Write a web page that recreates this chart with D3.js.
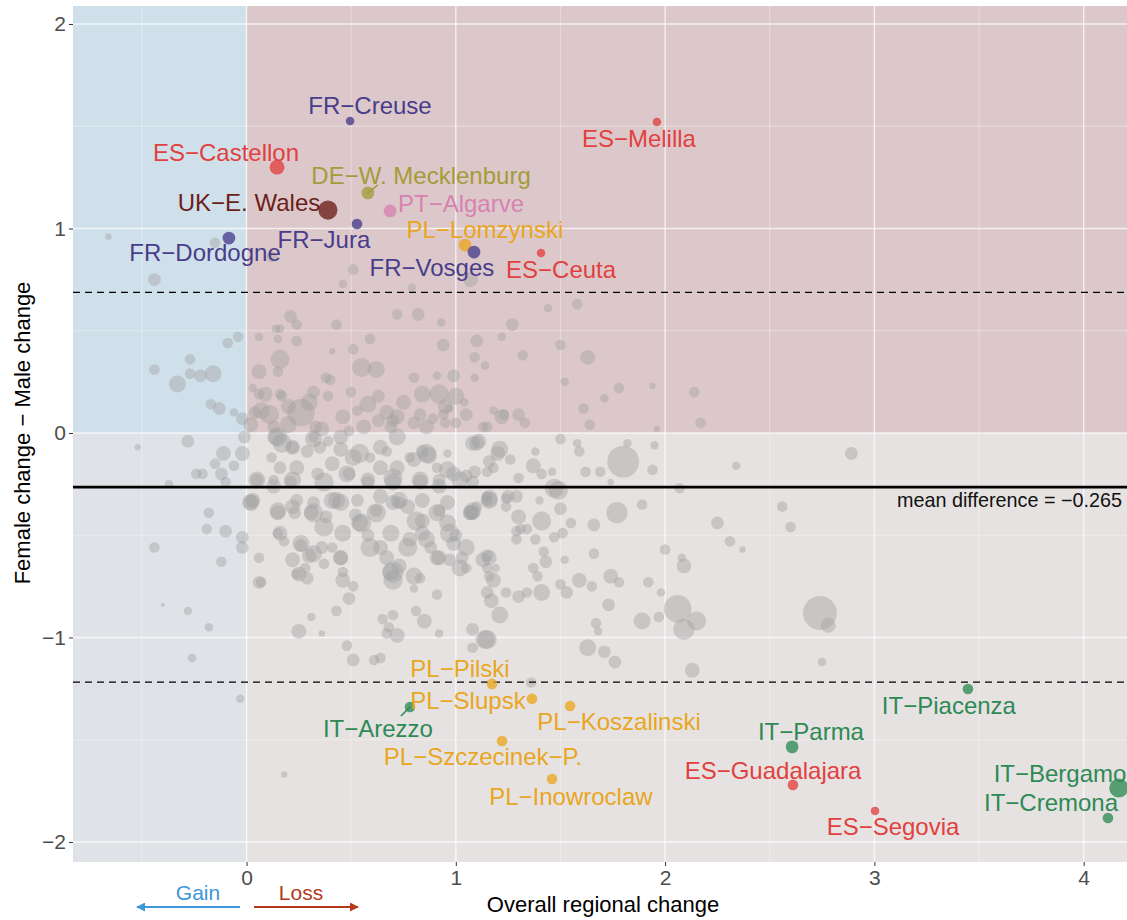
<!DOCTYPE html>
<html><head><meta charset="utf-8">
<script src="https://cdn.jsdelivr.net/npm/d3@7"></script>
<style>
html,body{margin:0;padding:0;background:#fff;}
text{font-family:"Liberation Sans",Arial,Helvetica,sans-serif;}
</style></head>
<body>
<svg id="chart" width="1127" height="920"></svg>
<script>
// ---------- DATA ----------
const xTicks = [0, 1, 2, 3, 4];
const yTicks = [-2, -1, 0, 1, 2];
const meanDiff = -0.265;
const upperBand = 0.688;
const lowerBand = -1.218;

// unlabelled regions: [overall change, female-male change, size]
const otherRegions = [
[-0.66,0.96,3],[-0.15,0.93,5],[-0.44,0.75,6],[0.12,0.86,5],[-0.04,0.47,5],[-0.09,0.44,5],[-0.27,0.36,5],[-0.44,0.31,5],[-0.16,0.29,8],[-0.22,0.28,6],[-0.27,0.29,5],[-0.33,0.24,8],[-0.17,0.14,5],[-0.13,0.12,6],[-0.06,0.10,4],[-0.02,0.07,6],[-0.28,-0.04,6],[-0.52,-0.07,3],[-0.18,-0.39,5],[-0.19,-0.47,5],[-0.10,-0.48,6],[-0.44,-0.56,5],[-0.12,-0.63,5],[-0.02,-0.51,6],[-0.37,-0.25,4],[-0.15,-0.15,5],[-0.11,-0.10,7],[-0.06,-0.16,5],[-0.24,-0.20,5],[-0.21,-0.20,5],[-0.12,-0.20,6],[-0.10,-0.24,5],[-0.01,-0.02,6],[-0.02,-0.10,7],[-0.40,-0.84,2],[-0.28,-0.87,4],[-0.18,-0.95,4],[-0.26,-1.10,4],[-0.03,-1.30,4],[0.18,-1.67,3],
[0.21,0.57,6],[0.24,0.53,5],[0.14,0.51,4],[0.16,0.51,4],[0.24,0.45,5],[0.15,0.46,4],[0.06,0.47,4],[0.16,0.36,9],[0.06,0.30,7],[0.15,0.30,5],[0.03,0.22,4],[0.09,0.19,7],[0.16,0.19,5],[0.07,0.11,8],[0.11,0.09,9],[0.26,0.10,13],[0.32,0.20,6],[0.39,0.18,5],[0.43,0.53,5],[0.41,0.40,3],[0.51,0.41,5],[0.50,0.20,5],[0.55,0.32,9],[0.62,0.31,8],[0.59,0.46,5],[0.46,0.08,7],[0.38,0.27,5],[0.63,0.18,6],[0.72,0.58,5],[0.82,0.58,6],[0.93,0.54,4],[0.94,0.43,6],[0.80,0.27,5],[0.91,0.28,4],[0.99,0.28,6],[0.84,0.19,8],[0.92,0.19,9],[1.10,0.45,6],[1.09,0.37,5],[1.14,0.33,4],[1.09,0.27,4],[1.04,0.15,4],[1.05,0.09,6],[1.22,0.47,4],[1.18,0.11,4],[1.23,0.09,5],[0.69,0.03,6],[0.72,0.08,7],[0.63,0.06,6],[0.80,0.05,6],[0.86,0.03,7],[0.95,0.05,5],[1.15,0.03,5],[0.33,0.03,6],[0.13,0.03,6],[0.49,0.01,5],[1.27,0.53,6],[1.32,0.38,5],[0.40,0.26,5],[0.06,0.19,5],[0.04,0.10,6],[0.17,0.18,5],[0.53,0.11,5],[0.67,0.10,7],[0.70,0.06,6],[0.83,0.09,6],[0.89,0.07,5],[0.94,0.09,5],[0.97,0.12,4],[1.00,0.05,5],[1.30,0.09,6],[1.33,0.05,5],[1.44,0.61,4],[1.58,0.63,5],[1.50,0.43,5],[1.63,0.37,7],[1.52,0.25,4],[1.78,0.22,5],[1.71,0.17,4],[1.94,0.23,3],[2.14,0.20,5],[2.17,0.05,5],[1.61,0.12,5],[1.64,0.04,5],[1.96,0.02,3],[1.22,0.08,7],[1.13,0.03,5],
[0.30,0.15,8],[0.20,0.13,7],[0.58,0.14,8],[0.75,0.15,7],[0.95,0.13,7],[1.00,0.18,8],[0.36,0.02,7],[0.56,0.03,7],[0.20,0.04,8],[0.02,0.04,7],
[0.51,0.80,5],[0.79,0.71,4],[1.07,0.75,7],[0.46,0.73,4],
[1.10,-0.05,7],[1.21,-0.08,8],[1.16,-0.14,6],[1.18,-0.17,5],[1.09,-0.19,6],[1.15,-0.19,5],[1.38,-0.09,4],[1.37,-0.16,7],[1.41,-0.20,5],[1.46,-0.19,4],[1.30,-0.22,5],[1.47,-0.27,9],[1.50,-0.03,5],[1.58,-0.05,4],[1.59,-0.09,5],[1.80,-0.14,15],[1.82,-0.05,4],[1.62,-0.19,5],[1.69,-0.19,5],[1.74,-0.24,3],[1.94,-0.18,5],[1.95,-0.06,4],[2.07,-0.27,5],[2.34,-0.16,4],[2.89,-0.10,6],
[1.77,-0.39,10],[1.89,-0.35,5],[2.25,-0.44,6],[2.56,-0.36,5],[2.60,-0.46,5],[2.31,-0.53,5],[2.37,-0.57,3],[2.00,-0.57,5],[2.08,-0.61,4],[2.09,-0.65,7],[1.66,-0.45,6],[1.50,-0.37,6],[1.41,-0.43,9],[1.55,-0.44,5],[1.51,-0.49,5],[1.30,-0.41,7],[1.31,-0.47,5],[1.34,-0.47,5],[1.38,-0.52,5],[1.29,-0.52,5],[1.40,-0.33,4],[1.66,-0.59,5],[1.52,-0.62,4],[1.42,-0.58,5],[1.43,-0.63,6],[1.37,-0.66,5],[1.39,-0.70,5],[1.74,-0.70,7],[1.78,-0.73,5],[1.92,-0.73,5],[1.59,-0.72,7],[1.65,-0.75,5],[1.50,-0.74,5],[1.41,-0.78,8],[1.53,-0.78,6],[1.34,-0.78,5],[1.15,-0.60,6],[1.15,-0.66,5],[1.19,-0.66,4],[1.16,-0.70,5],[1.24,-0.78,5],[1.15,-0.78,6],[1.98,-0.78,4],[1.08,-0.39,7],[1.10,-0.36,5],[1.15,-0.31,5],[1.29,-0.31,6],[1.24,-0.32,5],[1.47,-0.51,5],[1.29,-0.48,5],[1.16,-0.32,8],[1.25,-0.31,6],[1.49,-0.28,9],[1.73,-0.84,6],[2.06,-0.86,13],[2.15,-0.92,9],[2.09,-0.96,10],[1.97,-0.90,5],[1.89,-0.92,8],[1.67,-0.93,5],[1.68,-0.97,4],[1.63,-1.05,8],[1.71,-1.07,6],[1.76,-1.12,6],[2.13,-1.16,7],[2.74,-0.88,16],[2.78,-0.94,7],[2.75,-1.12,4],[1.30,-0.80,6],[1.21,-0.89,8],[1.17,-0.82,7],[1.15,-1.01,9],[1.36,-1.22,5],
[0.02,-0.34,7],[0.15,-0.39,7],[0.23,-0.39,6],[0.31,-0.39,7],[0.38,-0.41,6],[0.45,-0.34,8],[0.55,-0.44,9],[0.52,-0.40,6],[0.58,-0.50,6],[0.62,-0.38,6],[0.70,-0.34,7],[0.77,-0.36,7],[0.84,-0.43,7],[0.92,-0.38,6],[0.96,-0.44,8],[1.00,-0.50,6],[1.07,-0.39,7],[0.15,-0.49,5],[0.18,-0.53,5],[0.26,-0.55,6],[0.30,-0.60,7],[0.36,-0.56,6],[0.41,-0.56,5],[0.45,-0.61,7],[0.37,-0.64,5],[0.28,-0.66,5],[0.24,-0.69,5],[0.29,-0.71,6],[0.46,-0.68,5],[0.51,-0.75,5],[0.49,-0.81,6],[0.43,-0.87,5],[0.31,-0.90,4],[0.36,-0.98,3],[0.25,-0.97,7],[0.48,-1.04,5],[0.51,-1.11,6],[0.61,-1.11,5],[0.64,-1.10,5],[0.06,-0.61,5],[0.07,-0.73,5],[-0.02,-0.56,6],[0.64,-0.56,7],[0.67,-0.61,7],[0.70,-0.68,10],[0.73,-0.65,7],[0.65,-0.91,5],[0.70,-0.89,5],[0.68,-0.95,5],[0.72,-0.99,7],[0.67,-0.98,5],[0.83,-0.71,5],[0.80,-0.76,4],[0.81,-0.87,5],[0.85,-0.92,7],[0.91,-0.79,5],[0.92,-0.98,4],[0.78,-0.52,7],[0.84,-0.49,7],[0.88,-0.56,6],[0.92,-0.61,7],[0.99,-0.54,7],[1.03,-0.61,6],[1.05,-0.66,5],[0.97,-0.62,6],[1.08,-0.96,6],[1.14,-1.01,9],[1.08,-1.05,5],
[0.14,-0.02,8],[0.17,-0.05,9],[0.22,-0.07,6],[0.12,-0.12,5],[0.16,-0.17,6],[0.24,-0.17,7],[0.29,-0.09,6],[0.32,-0.02,5],[0.35,-0.07,6],[0.39,-0.04,5],[0.45,-0.08,7],[0.51,-0.12,8],[0.41,-0.15,7],[0.34,-0.20,6],[0.49,-0.20,6],[0.59,-0.12,5],[0.64,-0.17,7],[0.67,-0.09,5],[0.72,-0.17,7],[0.78,-0.12,5],[0.84,-0.09,6],[0.87,-0.11,8],[0.91,-0.17,5],[0.96,-0.10,4],[0.99,-0.20,7],[1.05,-0.21,6],[1.11,-0.04,7],[1.26,-0.13,5],[0.05,-0.23,6],[0.13,-0.23,5],[0.21,-0.24,6],[0.58,-0.24,6],[0.70,-0.24,8],[0.83,-0.24,7],[0.92,-0.23,6],[1.08,-0.24,6],
[0.03,-0.33,7],[0.24,-0.33,6],[0.32,-0.34,6],[0.43,-0.33,8],[0.53,-0.33,6],[0.64,-0.31,7],[0.73,-0.34,6],[0.84,-0.33,7],[0.96,-0.34,7],[1.08,-0.38,8],[1.15,-0.33,5],[1.24,-0.36,5],
[0.15,-0.02,9],[0.22,-0.07,7],[0.32,-0.03,8],[0.45,-0.02,7],[0.54,-0.10,9],[0.64,-0.07,7],[0.72,-0.02,8],[0.80,-0.13,7],[0.86,-0.10,9],[0.96,-0.18,8],[1.08,-0.05,7],[1.20,-0.10,7],[0.05,-0.23,8],[0.13,-0.26,7],[0.22,-0.23,8],[0.37,-0.24,9],[0.48,-0.20,8],[0.58,-0.23,7],[0.70,-0.22,9],[0.83,-0.23,8],[0.92,-0.26,7],[1.02,-0.23,8],[0.02,-0.34,8],[0.15,-0.38,8],[0.22,-0.36,7],[0.32,-0.39,9],[0.41,-0.33,8],[0.54,-0.44,8],[0.62,-0.39,9],[0.73,-0.33,8],[0.81,-0.43,9],[0.91,-0.39,8],[1.07,-0.39,7],[1.16,-0.33,8],[0.16,-0.49,7],[0.26,-0.54,8],[0.37,-0.46,9],[0.46,-0.49,8],[0.59,-0.56,9],[0.69,-0.49,8],[0.77,-0.56,9],[0.86,-0.52,8],[0.97,-0.49,9],[1.05,-0.56,8],[1.13,-0.62,7],[0.22,-0.62,7],[0.32,-0.59,8],[0.45,-0.61,7],[0.69,-0.68,8],[0.70,-0.72,9],[0.80,-0.70,8],[0.91,-0.61,7],[1.02,-0.66,8],[1.16,-0.61,7],[0.25,-0.69,7],[0.06,-0.73,6],[0.46,-0.72,7],[1.18,-0.72,7]
];

// labelled regions
const labelNames = ["FR−Creuse","ES−Melilla","ES−Castellon","DE−W. Mecklenburg","PT−Algarve","UK−E. Wales","FR−Jura","PL−Lomzynski","FR−Vosges","ES−Ceuta","FR−Dordogne","PL−Pilski","PL−Slupsk","IT−Arezzo","PL−Koszalinski","PL−Szczecinek−P.","PL−Inowroclaw","IT−Piacenza","IT−Parma","ES−Guadalajara","IT−Bergamo","IT−Cremona","ES−Segovia"];
const labelX = [0.495,1.961,0.146,0.580,0.686,0.389,0.528,1.044,1.087,1.407,-0.084,1.173,1.364,0.781,1.546,1.221,1.460,3.447,2.607,2.611,4.168,4.116,3.003];
const labelY = [1.526,1.521,1.300,1.174,1.086,1.090,1.022,0.919,0.885,0.880,0.953,-1.227,-1.300,-1.340,-1.335,-1.506,-1.692,-1.252,-1.535,-1.721,-1.736,-1.883,-1.848];
const labelSize = [4,4,7,6,6,9,5,6,6,4,6,5,5,5,5,5,5,5,6,5,9,5,4];
// label text positions (data units, text centre)
const textX = [0.590,1.875,-0.098,0.834,1.025,0.012,0.370,1.139,0.886,1.503,-0.198,1.020,1.058,0.628,1.780,1.130,1.550,3.356,2.697,2.516,3.887,3.844,3.089];
const textY = [1.600,1.438,1.369,1.257,1.120,1.125,0.944,0.993,0.807,0.797,0.880,-1.154,-1.311,-1.447,-1.413,-1.584,-1.780,-1.335,-1.462,-1.653,-1.667,-1.809,-1.927];
// repel segments: [label index, end x, end y]
const segments = [[3,0.628,1.213],[13,0.738,-1.384]];

const countryColors = {FR:"#483d8b", ES:"#e2403f", DE:"#a59b3a", PT:"#d782b1", UK:"#6b1e1a", PL:"#e9a61f", IT:"#2e8a55"};

// ---------- CHART ----------
const svg = d3.select("#chart");
const x = d3.scaleLinear().domain([-0.829, 4.207]).range([73, 1127]);
const y = d3.scaleLinear().domain([-2.098, 2.088]).range([862, 6]);
const r = d3.scaleLinear().domain([0, 16]).range([0, 17]);
const [x0, x1] = x.domain(), [y0, y1] = y.domain();

// background quadrants
const quads = [
  {xa:x0, xb:0, ya:0, yb:y1, c:"#cfe0ea"},
  {xa:0, xb:x1, ya:0, yb:y1, c:"#dcc8ca"},
  {xa:x0, xb:0, ya:y0, yb:0, c:"#dfe3e7"},
  {xa:0, xb:x1, ya:y0, yb:0, c:"#e6e2e1"}
];
svg.append("g").selectAll("rect").data(quads).join("rect")
  .attr("x", d => x(d.xa)).attr("y", d => y(d.yb))
  .attr("width", d => x(d.xb) - x(d.xa)).attr("height", d => y(d.ya) - y(d.yb))
  .attr("fill", d => d.c);

// grid
const grid = svg.append("g");
const minorX = [-0.5, 0.5, 1.5, 2.5, 3.5];
const minorY = [-1.5, -0.5, 0.5, 1.5];
grid.selectAll(".mx").data(minorX).join("line")
  .attr("x1", d => x(d)).attr("x2", d => x(d)).attr("y1", y(y1)).attr("y2", y(y0))
  .attr("stroke", "#fff").attr("stroke-opacity", 0.45).attr("stroke-width", 0.8);
grid.selectAll(".my").data(minorY).join("line")
  .attr("y1", d => y(d)).attr("y2", d => y(d)).attr("x1", x(x0)).attr("x2", x(x1))
  .attr("stroke", "#fff").attr("stroke-opacity", 0.45).attr("stroke-width", 0.8);
grid.selectAll(".Mx").data(xTicks).join("line")
  .attr("x1", d => x(d)).attr("x2", d => x(d)).attr("y1", y(y1)).attr("y2", y(y0))
  .attr("stroke", "#fff").attr("stroke-opacity", 0.7).attr("stroke-width", 1.4);
grid.selectAll(".My").data(yTicks).join("line")
  .attr("y1", d => y(d)).attr("y2", d => y(d)).attr("x1", x(x0)).attr("x2", x(x1))
  .attr("stroke", "#fff").attr("stroke-opacity", 0.7).attr("stroke-width", 1.4);

// grey points
svg.append("g").selectAll("circle").data(otherRegions).join("circle")
  .attr("cx", d => x(d[0])).attr("cy", d => y(d[1])).attr("r", d => r(d[2]))
  .attr("fill", "#9f9f9f").attr("fill-opacity", 0.42);

// reference lines
svg.append("line").attr("x1", x(x0)).attr("x2", x(x1)).attr("y1", y(meanDiff)).attr("y2", y(meanDiff))
  .attr("stroke", "#000").attr("stroke-width", 2.6);
[upperBand, lowerBand].forEach(v => {
  svg.append("line").attr("x1", x(x0)).attr("x2", x(x1)).attr("y1", y(v)).attr("y2", y(v))
    .attr("stroke", "#000").attr("stroke-width", 1.3).attr("stroke-dasharray", "7,5");
});
svg.append("text").attr("x", 1122).attr("y", y(meanDiff) + 20)
  .attr("text-anchor", "end").attr("font-size", 19.8).attr("fill", "#111")
  .text("mean difference = −0.265");

// labelled points
const lab = labelNames.map((n, i) => ({name:n, x:labelX[i], y:labelY[i], s:labelSize[i], tx:textX[i], ty:textY[i], c:countryColors[n.slice(0,2)]}));
svg.append("g").selectAll("line").data(segments).join("line")
  .attr("x1", d => x(lab[d[0]].x)).attr("y1", d => y(lab[d[0]].y))
  .attr("x2", d => x(d[1])).attr("y2", d => y(d[2]))
  .attr("stroke", d => lab[d[0]].c).attr("stroke-width", 1.6);
svg.append("g").selectAll("circle").data(lab).join("circle")
  .attr("cx", d => x(d.x)).attr("cy", d => y(d.y)).attr("r", d => r(d.s))
  .attr("fill", d => d.c).attr("fill-opacity", 0.78);
svg.append("g").selectAll("text").data(lab).join("text")
  .attr("x", d => x(d.tx)).attr("y", d => y(d.ty)).attr("dy", "0.35em")
  .attr("text-anchor", "middle").attr("font-size", 24).attr("fill", d => d.c)
  .text(d => d.name);

// axes
const xAxis = svg.append("g").attr("transform", `translate(0,${y(y0)})`)
  .call(d3.axisBottom(x).tickValues(xTicks).tickFormat(d3.format("d")).tickSize(4).tickPadding(4));
const yAxis = svg.append("g").attr("transform", `translate(${x(x0)},0)`)
  .call(d3.axisLeft(y).tickValues(yTicks).tickFormat(d3.format("d")).tickSize(4).tickPadding(3));
[xAxis, yAxis].forEach(a => {
  a.select(".domain").remove();
  a.selectAll(".tick line").attr("stroke", "#333");
  a.selectAll(".tick text").attr("font-size", 21).attr("fill", "#4d4d4d")
    .attr("font-family", "'Liberation Sans',Arial,sans-serif");
});

svg.append("text").attr("x", 603).attr("y", 912).attr("text-anchor", "middle")
  .attr("font-size", 22).attr("fill", "#000").text("Overall regional change");
svg.append("text").attr("transform", `translate(30,${433}) rotate(-90)`).attr("text-anchor", "middle")
  .attr("font-size", 22).attr("fill", "#000").text("Female change − Male change");

// gain / loss arrows
const defs = svg.append("defs");
[["gainHead","#3d96d6"],["lossHead","#b3391d"]].forEach(([id,c]) => {
  defs.append("marker").attr("id", id).attr("viewBox", "0 0 10 10").attr("refX", 9).attr("refY", 5)
    .attr("markerWidth", 9).attr("markerHeight", 9).attr("markerUnits","userSpaceOnUse").attr("orient", "auto")
    .append("path").attr("d", "M0,0 L10,5 L0,10 z").attr("fill", c);
});
svg.append("line").attr("x1", 240).attr("x2", 137).attr("y1", 907).attr("y2", 907)
  .attr("stroke", "#3d96d6").attr("stroke-width", 2).attr("marker-end", "url(#gainHead)");
svg.append("line").attr("x1", 254).attr("x2", 358).attr("y1", 907).attr("y2", 907)
  .attr("stroke", "#b3391d").attr("stroke-width", 2).attr("marker-end", "url(#lossHead)");
svg.append("text").attr("x", 198).attr("y", 900).attr("text-anchor", "middle")
  .attr("font-size", 21).attr("fill", "#3d96d6").text("Gain");
svg.append("text").attr("x", 301).attr("y", 900).attr("text-anchor", "middle")
  .attr("font-size", 21).attr("fill", "#b3391d").text("Loss");
</script>
</body></html>
